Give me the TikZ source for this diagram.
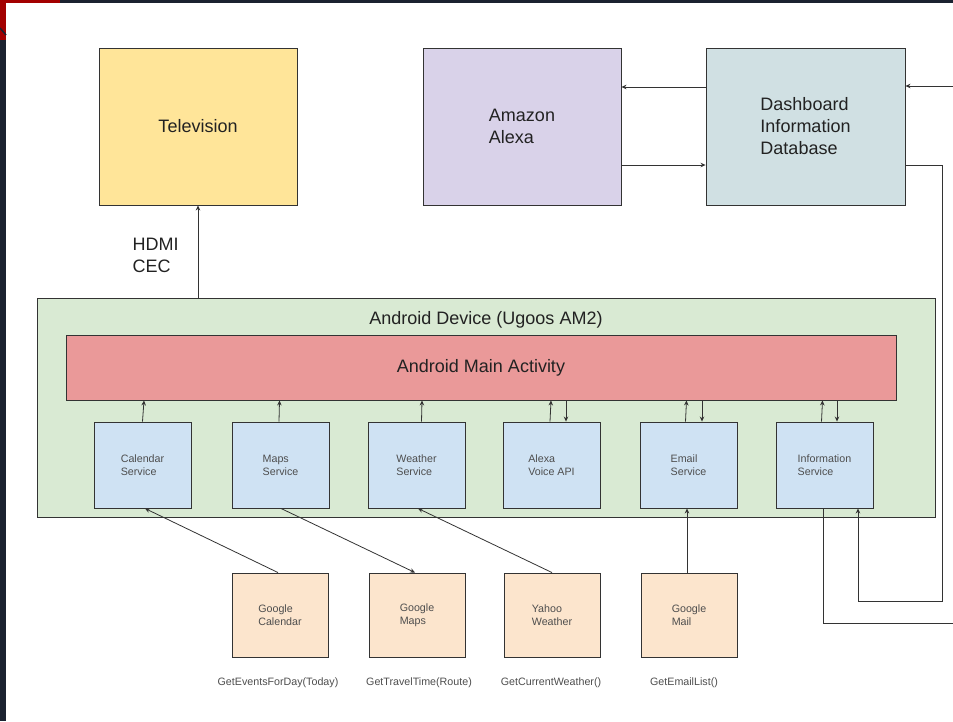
\documentclass[tikz,border=0pt]{standalone}
\usepackage{fontspec}
\setmainfont{Liberation Sans}
\usetikzlibrary{arrows.meta,calc}
\definecolor{tvc}{HTML}{FFE599}
\definecolor{alexac}{HTML}{D9D2E9}
\definecolor{dashc}{HTML}{D0E0E3}
\definecolor{greenc}{HTML}{D9EAD3}
\definecolor{redc}{HTML}{EA9999}
\definecolor{svcc}{HTML}{CFE2F3}
\definecolor{srcc}{HTML}{FCE5CD}
\definecolor{linec}{HTML}{333333}
\definecolor{txtc}{HTML}{222222}
\definecolor{navy}{HTML}{1B2230}
\definecolor{framered}{HTML}{A30000}
\begin{document}
\begin{tikzpicture}[x=1pt,y=-1pt,
  box/.style={draw=linec, line width=0.9pt, inner sep=0pt, align=left, text=txtc},
  big/.style={font=\fontsize{18}{22}\selectfont, text=txtc},
  small/.style={font=\fontsize{10.7}{13}\selectfont, text=txtc!80!white},
  conn/.style={draw=linec, line width=0.8pt, -{Stealth[length=5pt,width=4.5pt]}},
  plain/.style={draw=linec, line width=0.8pt},
  svc/.style={box, fill=svcc, small, minimum width=97pt, minimum height=86pt},
  src/.style={box, fill=srcc, small, minimum width=96pt, minimum height=84pt}]
\useasboundingbox (0,0) rectangle (953,721);
\fill[white] (0,0) rectangle (953,721);
% frame
\fill[navy] (0,0) rectangle (953,3);
\fill[navy] (0,0) rectangle (6,721);
\fill[framered] (0,0) rectangle (60,3);
\fill[framered] (0,0) rectangle (6,40);
\draw[navy, line width=1.5pt] (0,28) -- (6,35);
% top row
\node[box, big, fill=tvc, minimum width=198pt, minimum height=157pt] (tv) at (198,126.5) {Television};
\node[box, big, fill=alexac, minimum width=198pt, minimum height=157pt] (alexa) at (522,126.5) {Amazon\\Alexa};
\node[box, big, fill=dashc, minimum width=199pt, minimum height=157pt] (dash) at (805.5,126.5) {Dashboard\\Information\\Database};
% android device
\node[box, fill=greenc, minimum width=898pt, minimum height=219pt] (green) at (486,407.5) {};
\node[big] (devt) at (486,320) {Android Device (Ugoos AM2)};
\node[box, big, fill=redc, minimum width=830pt, minimum height=65pt] (main) at (481,367.5) {Android Main Activity};
% services
\node[svc] (cal) at (142.5,465) {Calendar\\Service};
\node[svc] (maps) at (280.5,465) {Maps\\Service};
\node[svc] (weather) at (416.5,465) {Weather\\Service};
\node[svc] (voice) at (551.5,465) {Alexa\\Voice API};
\node[svc] (email) at (688.5,465) {Email\\Service};
\node[svc] (info) at (824.5,465) {Information\\Service};
% sources
\node[src] (gcal) at (280,615) {Google\\Calendar};
\node[src] (gmaps) at (417,615) {Google\\Maps};
\node[src] (yahoo) at (552,615) {Yahoo\\Weather};
\node[src] (gmail) at (689,615) {Google\\Mail};
\node[small] (f1) at (278,683) {GetEventsForDay(Today)};
\node[small] (f2) at (419,683) {GetTravelTime(Route)};
\node[small] (f3) at (551,683) {GetCurrentWeather()};
\node[small] (f4) at (684,683) {GetEmailList()};
% HDMI
\node[big, align=left, anchor=west] (hdmi) at (129,255) {HDMI\\CEC};
\draw[conn] (green.north -| tv.south) -- (tv.south);
% coordinates for connectors
\coordinate (a1) at (0,87);
\coordinate (a2) at (0,165);
\coordinate (rin) at (953,86);
\coordinate (lp) at (942,601);
\coordinate (lq) at (858,601);
\coordinate (lr) at (823,623);
\coordinate (lend) at (953,623);
% top connectors
\draw[conn] (dash.west |- a1) -- (alexa.east |- a1);
\draw[conn] (alexa.east |- a2) -- (dash.west |- a2);
\draw[conn] (rin) -- (dash.east |- rin);
\draw[conn] (dash.east |- a2) -| (lp) -- (lq) -- (info.south -| lq);
\draw[plain] (info.south -| lr) -- (lr) -- (lend);
% services to main activity
\draw[conn] ($(cal.north)+(0,0)$) -- ($(cal.north |- main.south)+(1.5,0)$);
\draw[conn] ($(maps.north)+(-1.5,0)$) -- ($(maps.north |- main.south)+(-1,0)$);
\draw[conn] ($(weather.north)+(5,0)$) -- ($(weather.north |- main.south)+(5.5,0)$);
\draw[conn] ($(voice.north)+(-1.5,0)$) -- ($(voice.north |- main.south)+(-0.5,0)$);
\draw[conn] ($(voice.north |- main.south)+(14.5,0)$) -- ($(voice.north)+(14.5,0)$);
\draw[conn] ($(email.north)+(-3,0)$) -- ($(email.north |- main.south)+(-2,0)$);
\draw[conn] ($(email.north |- main.south)+(13.5,0)$) -- ($(email.north)+(13.5,0)$);
\draw[conn] ($(info.north)+(-3,0)$) -- ($(info.north |- main.south)+(-2,0)$);
\draw[conn] ($(info.north |- main.south)+(12.5,0)$) -- ($(info.north)+(12.5,0)$);
% sources to services
\draw[conn] ($(gcal.north)+(-2,0)$) -- ($(cal.south)+(2.5,0)$);
\draw[conn] ($(maps.south)+(0.5,0)$) -- ($(gmaps.north)+(-2,0)$);
\draw[conn] (yahoo.north) -- ($(weather.south)+(1.5,0)$);
\draw[conn] ($(gmail.north)+(-2,0)$) -- ($(email.south)+(-1.5,0)$);
\end{tikzpicture}
\end{document}
